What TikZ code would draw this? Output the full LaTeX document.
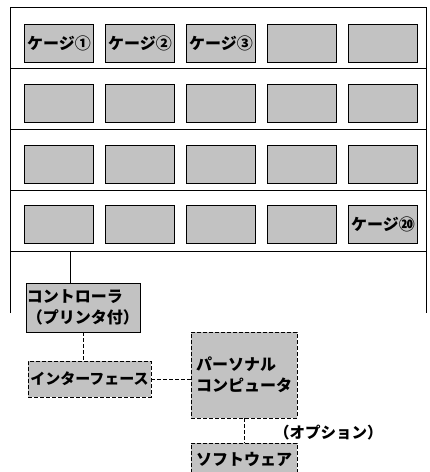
\documentclass[tikz,border=0pt]{standalone}
\usepackage{fontspec}
\setmainfont{Noto Sans CJK JP}
\usetikzlibrary{calc}
\usetikzlibrary{positioning}
\tikzset{
  cage/.style={draw,thick,fill=black!24,minimum width=69,minimum height=38,inner sep=1,font=\fontsize{16}{18}\selectfont\bfseries},
  unit/.style={draw,thick,fill=black!24,inner sep=1,align=left,font=\fontsize{16}{21}\selectfont\bfseries},
  opt/.style={unit,dash pattern=on 4pt off 2pt},
  link/.style={thick,dash pattern=on 4pt off 2pt},
}

\begin{document}
\begin{tikzpicture} [x=1pt,y=-1pt]
\useasboundingbox (0,0) rectangle (430,472);
% rack
\draw[thick] (10,313)--(10,7)--(426,7)--(426,313);
\foreach \y in {68,129,190,251} {
  \draw[thick] (10,\y)--(426,\y);
}
\foreach \c/\t in {1/ケージ①,2/ケージ②,3/ケージ③,4/,5/} {
  \node[cage] (cage-1-\c) at ({59+81*(\c-1)},43.5) {\t};
}
\foreach \r in {2,3} {
  \foreach \c in {1,...,5} {
    \node[cage] (cage-\r-\c) at ({59+81*(\c-1)},{43.5+60.2*(\r-1)}) {};
  }
}
\foreach \c/\t in {1/,2/,3/,4/,5/ケージ⑳} {
  \node[cage] (cage-4-\c) at ({59+81*(\c-1)},224.1) {\t};
}
\coordinate (tap) at (70,251);
% units
\node[unit,minimum width=106,minimum height=49] (ctrl) at (83,307.5) {コントローラ\\（プリンタ付）};
\node[opt,minimum width=123,minimum height=36,font=\fontsize{15}{18}\selectfont\bfseries] (iface) at (89.5,379) {インターフェース};
\node[opt,minimum width=106,minimum height=86] (pc) at (244,375) {パーソナル\\コンピュータ};
\node[opt,minimum width=106,minimum height=32] (soft) at (244,459) {ソフトウェア};
\node[font=\fontsize{15.5}{18}\selectfont\bfseries,anchor=west,inner sep=0] (optn) at (274,433) {（オプション）};
\draw[thick] (tap)--(tap |- ctrl.north);
\draw[link] (ctrl.south)--(ctrl.south |- iface.north);
\draw[link] (iface.east)--(pc.west |- iface.east);
\draw[link] (pc.south)--(soft.north);
\end{tikzpicture}
\end{document}
